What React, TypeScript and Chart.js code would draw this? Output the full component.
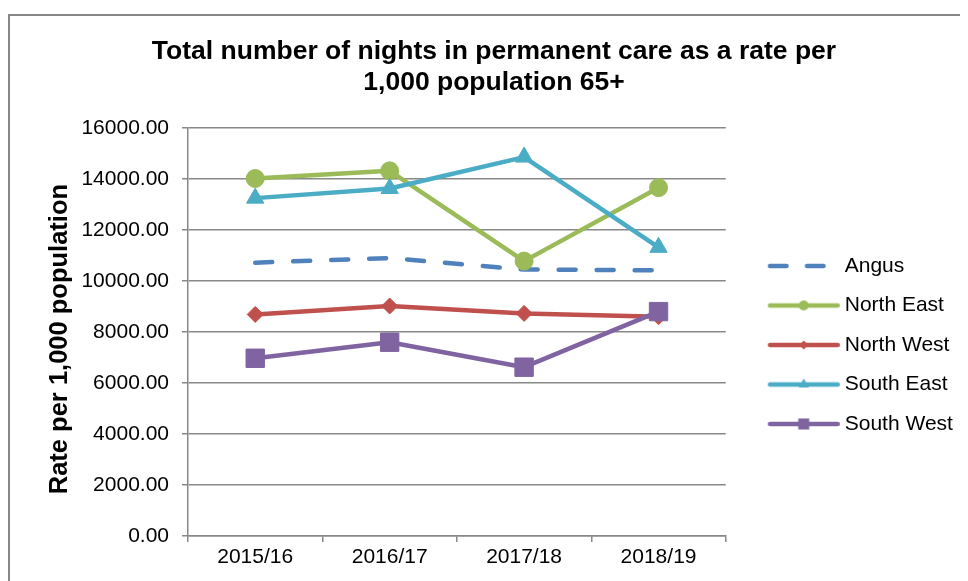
import { useEffect, useRef } from 'react';
import { Chart, registerables } from 'chart.js';

Chart.register(...registerables);

// ---- data ----
const categories = ['2015/16', '2016/17', '2017/18', '2018/19'];
const seriesNames = ['Angus', 'North East', 'North West', 'South East', 'South West'];
const angus = [10720, 10900, 10450, 10420];
const northEast = [14020, 14320, 10780, 13660];
const northWest = [8690, 9020, 8730, 8600];
const southEast = [13250, 13630, 14860, 11320];
const southWest = [6970, 7600, 6620, 8800];
const yMin = 0;
const yMax = 16000;
const yStep = 2000;
const chartTitle = ['Total number of nights in permanent care as a rate per', '1,000 population 65+'];
const yAxisTitle = 'Rate per 1,000 population';

// ---- styles ----
const FONT = "'Liberation Sans', Arial, Helvetica, sans-serif";
const GRID = '#888888';
const colors = ['#4F81BD', '#9BBB59', '#C0504D', '#4BACC6', '#8064A2'];
const markers = ['none', 'circle', 'rectRot', 'triangle', 'rect'];
const markerRadius = [0, 9, 8, 10, 13];

function drawMarker(g: CanvasRenderingContext2D, kind: string, x: number, y: number, color: string) {
  g.fillStyle = color;
  g.beginPath();
  if (kind === 'circle') {
    g.arc(x, y, 5, 0, Math.PI * 2);
  } else if (kind === 'rectRot') {
    const r = 4.5;
    g.moveTo(x - r, y);
    g.lineTo(x, y - r);
    g.lineTo(x + r, y);
    g.lineTo(x, y + r);
    g.closePath();
  } else if (kind === 'triangle') {
    const r = 6;
    g.moveTo(x, y - r);
    g.lineTo(x + r * 0.866, y + r * 0.5);
    g.lineTo(x - r * 0.866, y + r * 0.5);
    g.closePath();
  } else if (kind === 'rect') {
    g.rect(x - 5.5, y - 5.5, 11, 11);
  } else {
    return;
  }
  g.fill();
}

function legendImage(color: string, dashed: boolean, marker: string) {
  const c = document.createElement('canvas');
  c.width = 101;
  c.height = 24;
  const g = c.getContext('2d') as CanvasRenderingContext2D;
  g.strokeStyle = color;
  g.lineWidth = 4.5;
  g.lineCap = 'round';
  const x0 = 29;
  const y = 12;
  g.beginPath();
  if (dashed) {
    g.moveTo(x0 + 2.25, y);
    g.lineTo(x0 + 21 - 2.25, y);
    g.moveTo(x0 + 37 + 2.25, y);
    g.lineTo(x0 + 58 - 2.25, y);
  } else {
    g.moveTo(x0 + 2.25, y);
    g.lineTo(101 - 2.25, y);
  }
  g.stroke();
  drawMarker(g, marker, 65, y, color);
  return c;
}

export default function App() {
  const ref = useRef<HTMLCanvasElement | null>(null);

  useEffect(() => {
    if (!ref.current) return;
    const values = [angus, northEast, northWest, southEast, southWest];
    const images = seriesNames.map((_, i) => legendImage(colors[i], i === 0, markers[i]));

    const datasets = seriesNames.map((name, i) => ({
      label: name,
      data: values[i],
      borderColor: colors[i],
      backgroundColor: colors[i],
      borderWidth: 4.5,
      borderDash: i === 0 ? [17, 21] : [],
      borderCapStyle: i === 0 ? 'round' : 'butt',
      borderJoinStyle: 'round',
      tension: 0,
      fill: false,
      pointStyle: i === 0 ? false : markers[i],
      pointRadius: markerRadius[i],
      pointHoverRadius: markerRadius[i],
      pointBackgroundColor: colors[i],
      pointBorderColor: colors[i],
      pointBorderWidth: 1,
      order: seriesNames.length - i,
    }));

    const chart = new Chart(ref.current, {
      type: 'line',
      data: { labels: categories, datasets: datasets as any },
      options: {
        animation: false,
        responsive: false,
        devicePixelRatio: 1,
        layout: { padding: { left: 20.5, right: 10.5, top: 0, bottom: 0 } },
        font: { family: FONT },
        plugins: {
          tooltip: { enabled: false },
          title: {
            display: true,
            text: chartTitle,
            color: '#000',
            font: { family: FONT, size: 26.5, weight: 'bold', lineHeight: '31px' },
            padding: { top: 20.5, bottom: 29.5 },
          },
          legend: {
            position: 'right',
            fullSize: false,
            title: { display: true, text: ' ', font: { size: 10, lineHeight: 1 }, padding: { top: 8, bottom: 8 } },
            labels: {
              color: '#000',
              font: { family: FONT, size: 21 },
              padding: 18.5,
              usePointStyle: true,
              pointStyleWidth: 90,
              generateLabels: () =>
                seriesNames.map((name, i) => ({
                  text: name,
                  pointStyle: images[i],
                  fillStyle: colors[i],
                  strokeStyle: colors[i],
                  lineWidth: 0,
                  hidden: false,
                  datasetIndex: i,
                  fontColor: '#000',
                })) as any,
            },
          },
        },
        scales: {
          x: {
            type: 'category',
            offset: true,
            grid: { drawOnChartArea: false, offset: true, tickLength: 6, color: GRID, lineWidth: 1.5 },
            border: { display: true, color: GRID, width: 1.5 },
            ticks: { color: '#000', font: { family: FONT, size: 21 }, padding: 2.5, maxRotation: 0 },
            afterFit: (s: any) => { s.height = 45; },
          },
          y: {
            min: yMin,
            max: yMax,
            grid: { color: GRID, lineWidth: 1.5, tickLength: 6 },
            border: { display: true, color: GRID, width: 1.5 },
            ticks: {
              stepSize: yStep,
              color: '#000',
              font: { family: FONT, size: 21 },
              padding: 13,
              callback: (v: any) => Number(v).toFixed(2),
            },
            title: {
              display: true,
              text: yAxisTitle + '  ',
              color: '#000',
              font: { family: FONT, size: 25.5, weight: 'bold', lineHeight: 1.2 },
              padding: { top: 14, bottom: 0 },
            },
            afterFit: (s: any) => { s.width = 157.5; },
          },
        },
      } as any,
    });
    return () => chart.destroy();
  }, []);

  return (
    <div style={{ position: 'relative', width: 960, height: 573, overflow: 'hidden', background: '#fff' }}>
      <div
        style={{
          position: 'absolute',
          left: 0,
          top: 6,
          width: 1000,
          height: 700,
          border: '2px solid #878787',
          boxSizing: 'border-box',
        }}
      />
      <div style={{ position: 'absolute', left: 2, top: 8, width: 958, height: 565 }}>
        <canvas ref={ref} width={958} height={565} style={{ display: 'block', width: 958, height: 565 }} />
      </div>
    </div>
  );
}
